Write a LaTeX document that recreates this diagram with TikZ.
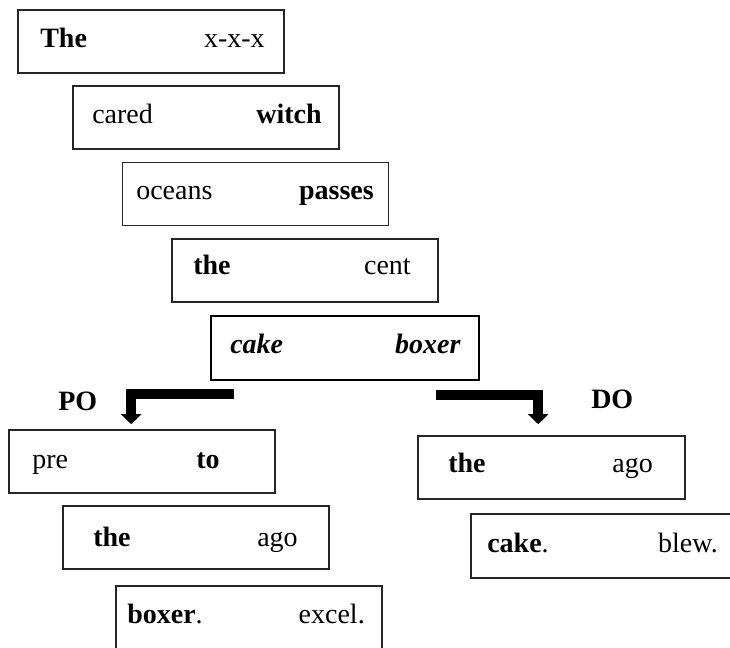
\documentclass[tikz,border=0pt]{standalone}
\usepackage{fontspec}
\setmainfont{Liberation Serif}
\usetikzlibrary{arrows.meta,calc}

\begin{document}
\begin{tikzpicture}[
  x=0.75pt, y=-0.75pt,
  wordbox/.style={draw=black!85, line width=1.2pt, rectangle, inner sep=0pt,
    minimum width=199.5pt, minimum height=47.25pt},
  keybox/.style={wordbox, draw=black, line width=2pt, minimum width=201pt, minimum height=48pt},
  lw/.style={anchor=base west, inner sep=0pt, font=\fontsize{21}{25}\selectfont},
  rw/.style={anchor=base east, inner sep=0pt, font=\fontsize{21}{25}\selectfont},
  branch/.style={line width=7.5pt, line cap=butt, line join=miter,
    -{Triangle[width=15pt, length=7.5pt]}},
]
\useasboundingbox (0,0) rectangle (730,648);

% sentence frames, shared part
\node[wordbox] (b1) at (151,41.5) {};
\node[lw] (b1l) at (40,48) {\textbf{The}};
\node[rw] (b1r) at (265,48) {x-x-x};

\node[wordbox] (b2) at (206,117.5) {};
\node[lw] (b2l) at (92,124) {cared};
\node[rw] (b2r) at (322,124) {\textbf{witch}};

\node[wordbox] (b3) at (255.5,194) {};
\node[lw] (b3l) at (136,200) {oceans};
\node[rw] (b3r) at (374,200) {\textbf{passes}};

\node[wordbox] (b4) at (305,270.5) {};
\node[lw] (b4l) at (193,274) {\textbf{the}};
\node[rw] (b4r) at (411,274) {cent};

\node[keybox] (cake) at (345,348) {};
\node[lw] (cakel) at (230,353) {\textbf{\itshape cake}};
\node[rw] (caker) at (461,353) {\textbf{\itshape boxer}};

% PO branch
\node[lw] (polab) at (58,410) {\textbf{PO}};
\node[wordbox] (po) at (142,461.5) {};
\node[lw] (pol) at (32,468) {pre};
\node[rw] (por) at (220,468) {\textbf{to}};

\node[wordbox] (po2) at (196,537.5) {};
\node[lw] (po2l) at (93,546) {\textbf{the}};
\node[rw] (po2r) at (298,546) {ago};

\node[wordbox, minimum height=51.75pt] (po3) at (249,620.5) {};
\node[lw] (po3l) at (127,623) {\textbf{boxer}.};
\node[rw] (po3r) at (365,623) {excel.};

% DO branch
\node[lw] (dolab) at (591,408) {\textbf{DO}};
\node[wordbox, minimum width=200.25pt] (do) at (551.5,467.5) {};
\node[lw] (dol) at (448,472) {\textbf{the}};
\node[rw] (dor) at (653,472) {ago};

\node[wordbox, minimum height=48pt] (do2) at (604,546) {};
\node[lw] (do2l) at (487,552) {\textbf{cake}.};
\node[rw] (do2r) at (718,552) {blew.};

% branching arrows
\draw[branch] ($(cake.south west)+(24,13)$) -| ($(po.north west)+(123,-5)$);
\draw[branch] ($(cake.south east)+(-44,14)$) -| ($(do.north west)+(121,-11)$);
\end{tikzpicture}
\end{document}
